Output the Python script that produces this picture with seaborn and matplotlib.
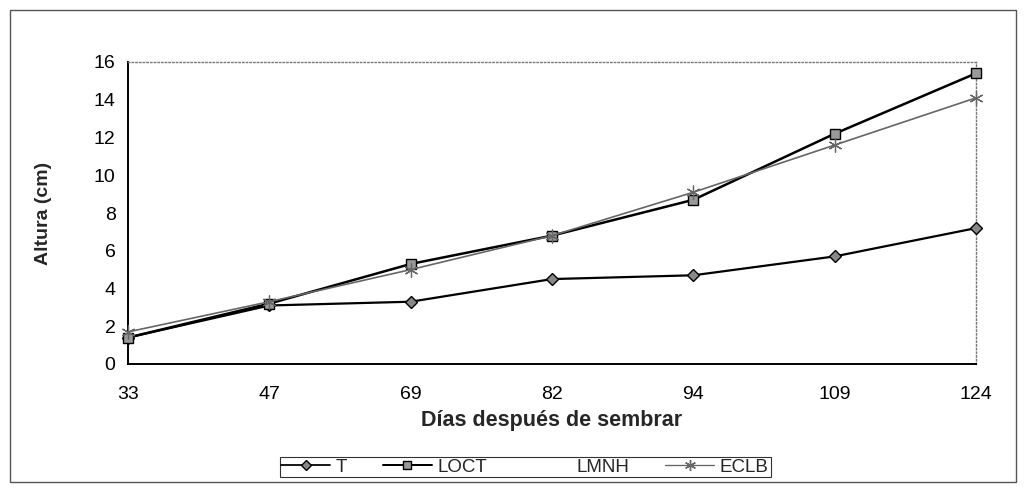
import numpy as np
import pandas as pd
import matplotlib
matplotlib.use('Agg')
import matplotlib.pyplot as plt
import seaborn as sns
from matplotlib.lines import Line2D
from matplotlib.patches import Rectangle

dias = ['33', '47', '69', '82', '94', '109', '124']
altura_T = [1.4, 3.1, 3.3, 4.5, 4.7, 5.7, 7.2]
altura_LOCT = [1.4, 3.2, 5.3, 6.8, 8.7, 12.2, 15.4]
altura_LMNH = [np.nan] * 7  # no se ve en la figura
altura_ECLB = [1.7, 3.3, 5.0, 6.8, 9.1, 11.6, 14.1]
y_ticks = [0, 2, 4, 6, 8, 10, 12, 14, 16]

sns.set_theme(style='white')
plt.rcParams['font.family'] = ['Liberation Sans', 'DejaVu Sans']

fig = plt.figure(figsize=(10.25, 4.88), dpi=100)
ax = fig.add_axes([128 / 1025, 1 - 364 / 488, (976 - 128) / 1025, (364 - 62) / 488])

# marco exterior
fig.patches.append(Rectangle((10 / 1025, 6 / 488), 1006 / 1025, 472 / 488, transform=fig.transFigure,
                             fill=False, edgecolor='#555555', linewidth=1.0))

estilos = {
    'T': dict(color='black', marker='D', markersize=6, markerfacecolor='#888888', markeredgecolor='black', lw=1.6),
    'LOCT': dict(color='black', marker='s', markersize=7, markerfacecolor='#999999', markeredgecolor='black', lw=1.8),
    'LMNH': dict(color='white', marker=None, lw=1.2),
    'ECLB': dict(color='#666666', marker=(6, 2, 0), markersize=10, markeredgecolor='#666666', markeredgewidth=0.9, lw=1.2),
}
series = {'T': altura_T, 'LOCT': altura_LOCT, 'LMNH': altura_LMNH, 'ECLB': altura_ECLB}

x_pos = list(range(len(dias)))
for nombre, valores in series.items():
    if np.all(np.isnan(valores)):
        continue
    df = pd.DataFrame({'x': x_pos, 'y': valores})
    st = estilos[nombre]
    sns.lineplot(data=df, x='x', y='y', ax=ax, color=st['color'], linewidth=st['lw'],
                 marker=st['marker'], markersize=st.get('markersize', 6),
                 markerfacecolor=st.get('markerfacecolor', 'none'),
                 markeredgecolor=st.get('markeredgecolor', st['color']),
                 markeredgewidth=st.get('markeredgewidth', 1.0), zorder=3, clip_on=False)

ax.set_xlim(0, len(dias) - 1)
ax.set_ylim(0, 16)
ax.set_xticks(x_pos)
ax.set_xticklabels(dias)
ax.set_yticks(y_ticks)
ax.tick_params(axis='both', labelsize=14, colors='black', length=4, width=0.8)
ax.tick_params(axis='x', direction='inout', pad=14)
ax.tick_params(axis='y', direction='out', pad=5)

for s in ['left', 'bottom']:
    ax.spines[s].set_color('black')
    ax.spines[s].set_linewidth(1.4)
for s in ['top', 'right']:
    ax.spines[s].set_color('#777777')
    ax.spines[s].set_linewidth(1.0)
    ax.spines[s].set_linestyle(':')

ax.set_ylabel('Altura (cm)', fontsize=14, fontweight='bold', labelpad=30)
ax.set_xlabel('Días después de sembrar', fontsize=15.5, fontweight='bold', labelpad=5)

handles = []
for nombre in series:
    st = estilos[nombre]
    if nombre == 'LMNH':
        handles.append(Line2D([0], [0], color='white', lw=1.2, label=nombre))
    else:
        handles.append(Line2D([0], [0], color=st['color'], lw=st['lw'] * 0.8, marker=st['marker'],
                              markersize=st['markersize'] * 0.8, markerfacecolor=st.get('markerfacecolor', 'none'),
                              markeredgecolor=st['markeredgecolor'], label=nombre))
leg = fig.legend(handles=handles, loc='center', bbox_to_anchor=(525 / 1025, 1 - 467 / 488), ncol=4,
                 frameon=True, fancybox=False, fontsize=13.5, handlelength=2.6, handletextpad=0.3,
                 columnspacing=1.9, borderpad=0.1, edgecolor='black')
leg.get_frame().set_linewidth(0.8)

fig.savefig('out.png', dpi=100, facecolor='white')
